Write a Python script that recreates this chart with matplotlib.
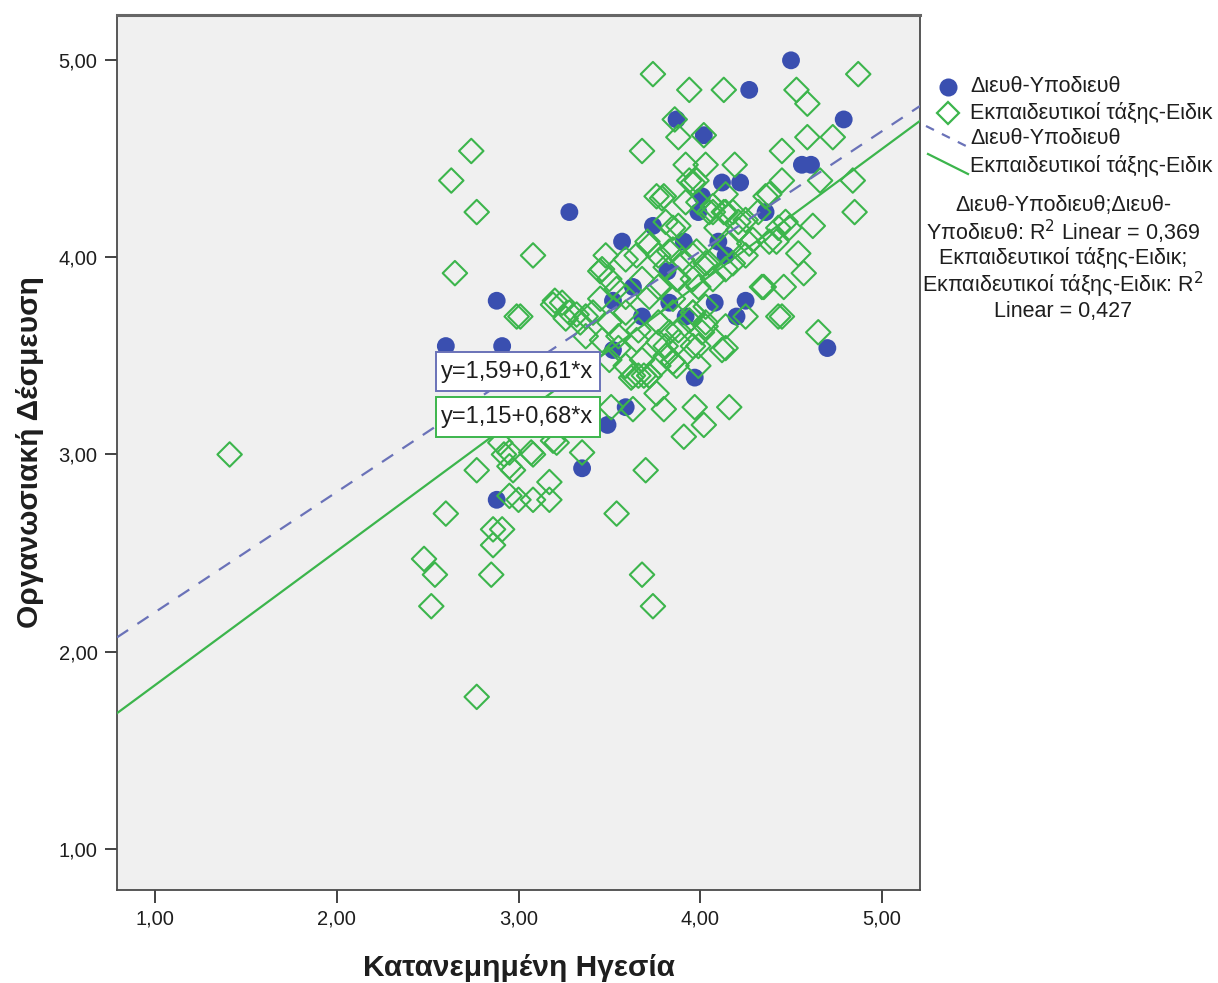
import matplotlib
matplotlib.use("Agg")
import matplotlib.pyplot as plt
from matplotlib.lines import Line2D
from matplotlib.patches import Rectangle

plt.rcParams['font.family'] = ['Liberation Sans', 'DejaVu Sans']

# ---------------- data ----------------
group_names = ["Διευθ-Υποδιευθ", "Εκπαιδευτικοί τάξης-Ειδικ"]

blue_x = [4.50, 4.27, 4.79, 3.87, 4.02, 4.56, 4.61, 4.12, 4.22, 4.01, 3.28, 3.99,
          4.36, 3.74, 3.57, 3.91, 4.10, 4.14, 3.82, 3.63, 2.88, 3.52, 3.83, 4.08,
          4.25, 3.68, 4.20, 3.92, 2.60, 2.91, 4.70, 3.52, 3.97, 3.59, 3.49, 3.35, 2.88]
blue_y = [5.00, 4.85, 4.70, 4.70, 4.62, 4.47, 4.47, 4.38, 4.38, 4.31, 4.23, 4.23,
          4.23, 4.16, 4.08, 4.08, 4.08, 4.01, 3.93, 3.85, 3.78, 3.78, 3.77, 3.77,
          3.78, 3.70, 3.70, 3.70, 3.55, 3.55, 3.54, 3.53, 3.39, 3.24, 3.15, 2.93, 2.77]

green_x = [1.41, 2.77, 2.48, 2.54, 2.52, 2.86, 2.91, 2.86, 2.85, 3.68, 3.74, 2.60,
           3.54, 2.74, 2.63, 2.77, 2.65, 3.08, 2.99, 3.20, 2.77, 2.90, 2.95, 3.08,
           2.97, 3.17, 2.95, 3.00, 3.08, 3.17, 3.21, 3.35, 3.07, 3.19, 2.92, 2.95,
           3.70, 3.91, 4.02, 3.97, 4.16, 3.80, 3.51, 3.63, 3.76, 3.69, 3.62, 3.66,
           3.85, 3.72,
           3.74, 3.94, 4.13, 4.53, 4.59, 4.87, 3.86, 3.88, 4.02, 4.59, 4.73, 3.68,
           4.45, 3.92, 4.03, 4.19, 3.94, 3.98, 4.45, 4.66, 4.84, 3.80, 4.14, 4.36,
           4.85, 3.76, 3.85, 4.62, 4.54, 4.57, 4.46, 4.35, 4.43, 4.49, 4.38, 4.27,
           4.16, 4.09, 4.13, 4.05, 4.18, 4.65, 4.43, 4.45, 4.14, 4.01, 4.25, 4.42,
           4.34, 4.21, 4.25,
           3.48, 3.45, 3.65, 3.71, 3.79, 3.96, 3.92, 4.07, 3.81, 3.72, 3.46, 3.50,
           3.59, 3.77, 3.85, 3.90, 3.98, 4.03, 4.09, 4.18, 4.25, 3.96, 3.87, 3.77,
           3.72, 3.68, 3.59, 3.54, 3.45, 3.41, 3.34, 3.28, 3.24, 3.50, 3.59, 3.66,
           3.77, 3.85, 3.96, 4.03, 4.03, 4.14, 4.12, 3.99, 3.88, 3.77, 3.65, 3.55,
           3.46, 3.37, 3.50, 3.59, 3.68, 3.77, 3.81, 3.87, 3.99, 3.63, 3.72, 3.26,
           3.32, 3.19, 3.01, 3.37, 3.55, 3.83, 3.94, 3.81, 3.99, 4.07, 4.14, 4.21,
           4.29, 4.32, 4.38, 4.47, 3.88, 3.83, 3.96, 4.05, 4.14, 3.88, 3.99, 4.07,
           3.85, 3.96, 4.03, 3.88, 3.96, 3.81, 3.85]
green_y = [3.00, 1.77, 2.47, 2.39, 2.23, 2.62, 2.62, 2.54, 2.39, 2.39, 2.23, 2.70,
           2.70, 4.54, 4.39, 4.23, 3.92, 4.01, 3.70, 3.78, 2.92, 3.06, 3.01, 3.00,
           2.92, 2.86, 2.79, 2.77, 2.77, 2.77, 3.06, 3.01, 3.01, 3.07, 3.00, 2.94,
           2.92, 3.09, 3.15, 3.24, 3.24, 3.23, 3.24, 3.23, 3.31, 3.40, 3.39, 3.40,
           3.47, 3.40,
           4.93, 4.85, 4.85, 4.85, 4.78, 4.93, 4.70, 4.61, 4.62, 4.61, 4.61, 4.54,
           4.54, 4.47, 4.47, 4.47, 4.39, 4.39, 4.39, 4.39, 4.39, 4.31, 4.32, 4.31,
           4.23, 4.31, 4.15, 4.16, 4.02, 3.92, 3.85, 3.85, 4.15, 4.15, 4.08, 4.07,
           4.07, 4.15, 4.23, 4.23, 4.23, 3.62, 3.70, 3.70, 3.54, 3.62, 3.70, 4.08,
           3.85, 4.18, 4.19,
           4.01, 3.93, 4.01, 4.08, 4.30, 4.38, 4.28, 4.26, 4.18, 4.06, 3.94, 3.89,
           3.99, 4.01, 4.04, 3.99, 4.03, 3.97, 4.01, 3.97, 4.01, 3.89, 3.89, 3.85,
           3.80, 3.89, 3.80, 3.84, 3.79, 3.72, 3.67, 3.72, 3.77, 3.67, 3.72, 3.63,
           3.67, 3.72, 3.72, 3.65, 3.75, 3.65, 3.53, 3.55, 3.57, 3.57, 3.58, 3.60,
           3.58, 3.60, 3.48, 3.45, 3.48, 3.45, 3.50, 3.45, 3.45, 3.40, 3.40, 3.69,
           3.71, 3.76, 3.70, 3.70, 3.54, 3.62, 3.68, 3.95, 4.28, 4.23, 4.23, 4.14,
           4.09, 4.23, 4.32, 4.18, 4.16, 4.03, 4.01, 3.97, 3.94, 3.89, 3.85, 3.89,
           3.79, 3.72, 3.67, 3.63, 3.55, 3.55, 3.47]

fit_intercepts = [1.59, 1.15]
fit_slopes = [0.61, 0.68]
fit_labels = ["y=1,59+0,61*x", "y=1,15+0,68*x"]
r2_lines = ["Διευθ-Υποδιευθ;Διευθ-",
            "Υποδιευθ: R$^2$ Linear = 0,369",
            "Εκπαιδευτικοί τάξης-Ειδικ;",
            "Εκπαιδευτικοί τάξης-Ειδικ: R$^2$",
            "Linear = 0,427"]
xticks = [1, 2, 3, 4, 5]
yticks = [1, 2, 3, 4, 5]
xlabel = "Κατανεμημένη Ηγεσία"
ylabel = "Οργανωσιακή Δέσμευση"

# ---------------- style ----------------
W, H = 1218, 983
BLUE = "#3a4fb0"
BLUE_LINE = "#6a72b8"
GREEN = "#3cb54c"
FRAME = "#4a4a4a"
TXT = "#1e1e1e"

def fx(px):
    return px / W

def fy(py):
    return 1 - py / H

fig = plt.figure(figsize=(W / 100, H / 100), dpi=100)
fig.patch.set_facecolor("white")
ax = fig.add_axes([fx(117), fy(890), fx(920) - fx(117), fy(15) - fy(890)])
ax.set_facecolor("#f0f0f0")
xmin, xmax = 0.79, 5.21
ymin, ymax = 0.79, 5.23
ax.set_xlim(xmin, xmax)
ax.set_ylim(ymin, ymax)

ax.scatter(blue_x, blue_y, s=165, c=BLUE, edgecolors="none", zorder=3)
ax.scatter(green_x, green_y, s=155, marker="D", facecolors="none",
           edgecolors=GREEN, linewidths=1.5, zorder=4)

xs = [xmin, xmax]
ax.plot(xs, [fit_intercepts[0] + fit_slopes[0] * v for v in xs],
        color=BLUE_LINE, lw=1.6, dashes=(6, 5), zorder=5)
ax.plot(xs, [fit_intercepts[1] + fit_slopes[1] * v for v in xs],
        color=GREEN, lw=1.6, zorder=5)

# equation boxes
box_x0, box_x1 = 2.545, 3.45
box_specs = [(3.32, 3.52, BLUE_LINE), (3.09, 3.29, GREEN)]
for (y0, y1, col), lab in zip(box_specs, fit_labels):
    ax.add_patch(Rectangle((box_x0, y0), box_x1 - box_x0, y1 - y0,
                           facecolor="white", edgecolor=col, lw=1.4, zorder=6))
    ax.text(box_x0 + 0.03, (y0 + y1) / 2, lab, fontsize=17, va="center",
            ha="left", color=TXT, zorder=7)

ax.set_xticks(xticks)
ax.set_yticks(yticks)
ax.set_xticklabels([f"{v:.2f}".replace(".", ",") for v in xticks], fontsize=14.5)
ax.set_yticklabels([f"{v:.2f}".replace(".", ",") for v in yticks], fontsize=14.5)
ax.tick_params(direction="out", length=9, width=1.2, color="#222222",
               labelcolor=TXT, pad=5)
for sp in ax.spines.values():
    sp.set_color(FRAME)
    sp.set_linewidth(1.3)
ax.spines["top"].set_linewidth(2.2)
ax.spines["top"].set_color("#666666")

fig.text(fx(519), fy(968), xlabel, fontsize=21.5, fontweight="bold",
         ha="center", va="center", color=TXT)
fig.text(fx(30), fy(452), ylabel, fontsize=21.5, fontweight="bold",
         ha="center", va="center", rotation=90, color=TXT)

# legend (manual)
leg_text_x = fx(970)
rows = [87, 113, 139, 166]
fig.add_artist(Line2D([fx(948)], [fy(rows[0])], marker="o", markersize=13,
                      color=BLUE, markeredgecolor="none", linestyle="none"))
fig.add_artist(Line2D([fx(948)], [fy(rows[1])], marker="D", markersize=11,
                      markerfacecolor="none", markeredgecolor=GREEN,
                      markeredgewidth=1.6, linestyle="none"))
fig.add_artist(Line2D([fx(926), fx(966)], [fy(126), fy(146)], color=BLUE_LINE,
                      lw=1.6, dashes=(4, 4)))
fig.add_artist(Line2D([fx(928), fx(968)], [fy(154), fy(174)], color=GREEN, lw=1.6))
legend_labels = [group_names[0], group_names[1], group_names[0], group_names[1]]
for r, lab in zip(rows, legend_labels):
    fig.text(leg_text_x, fy(r), lab, fontsize=15.5, ha="left", va="center",
             color=TXT)

r2_rows = [206, 232, 258, 285, 311]
for r, line in zip(r2_rows, r2_lines):
    fig.text(fx(1063), fy(r), line, fontsize=15.5, ha="center", va="center",
             color=TXT)

fig.savefig("out.png", dpi=100, facecolor="white")
